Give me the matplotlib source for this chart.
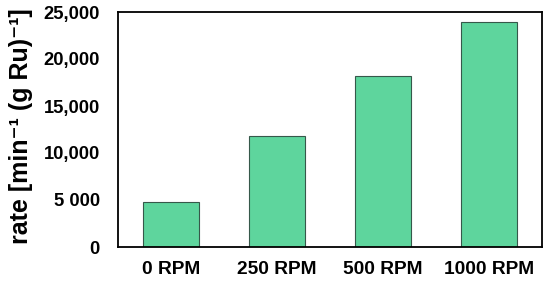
import matplotlib.pyplot as plt
from matplotlib.ticker import FixedLocator, FixedFormatter

plt.rcParams['font.family'] = ['Liberation Sans', 'DejaVu Sans']
plt.rcParams['font.weight'] = 'bold'

speeds = ["0 RPM", "250 RPM", "500 RPM", "1000 RPM"]
rates = [4800, 11800, 18200, 23900]
y_ticks = [0, 5000, 10000, 15000, 20000, 25000]
y_tick_labels = ["0", "5 000", "10,000", "15,000", "20,000", "25,000"]

fig = plt.figure(figsize=(5.5, 2.87), dpi=100)
ax = fig.add_axes([118 / 550, 1 - 247 / 287, 424 / 550, 235 / 287])

ax.bar(range(len(speeds)), rates, width=0.53, color="#5ed59d",
       edgecolor="#36584a", linewidth=0.8)

ax.set_xlim(-0.5, len(speeds) - 0.5)
ax.set_ylim(0, 25000)
ax.yaxis.set_major_locator(FixedLocator(y_ticks))
ax.yaxis.set_major_formatter(FixedFormatter(y_tick_labels))
ax.set_xticks(range(len(speeds)))
ax.set_xticklabels(speeds)
ax.tick_params(axis="both", length=0)
ax.tick_params(axis="y", pad=13, labelsize=13.2)
ax.tick_params(axis="x", pad=10, labelsize=13.8)
for s in ax.spines.values():
    s.set_linewidth(1.3)
    s.set_color("black")

ax.set_ylabel("rate [min\u207b\u00b9 (g Ru)\u207b\u00b9]", fontsize=18, fontweight="bold")
ax.yaxis.set_label_coords(-0.201, 0.515)

fig.savefig("out.png", dpi=100)
